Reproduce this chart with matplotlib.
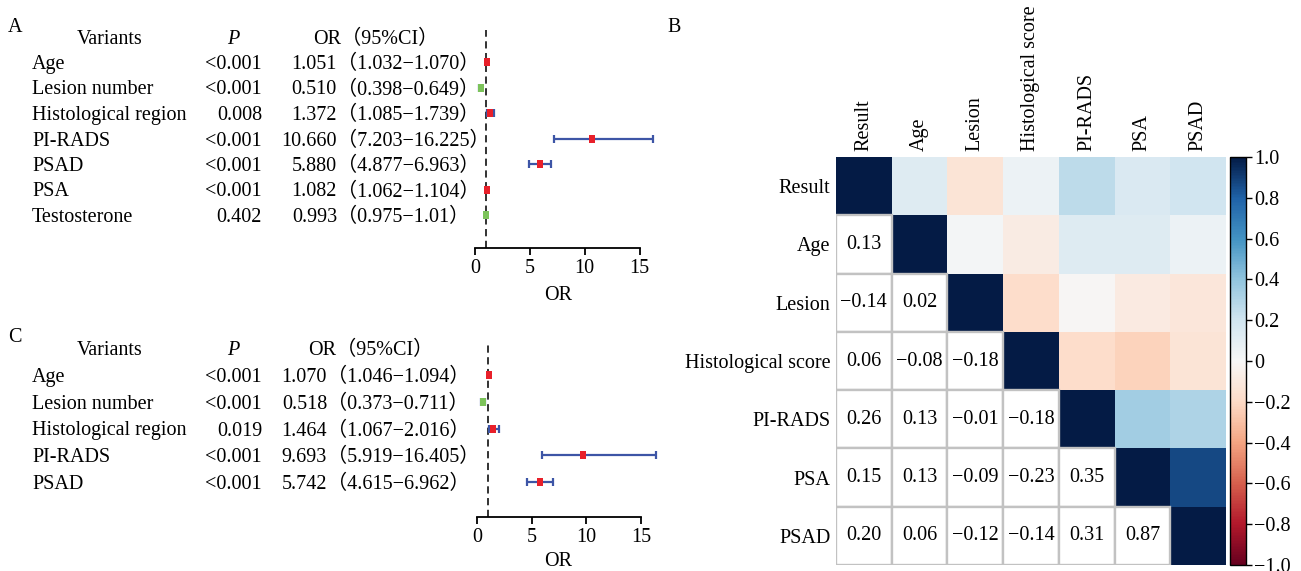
import matplotlib
matplotlib.use('Agg')
import matplotlib.pyplot as plt
import matplotlib.transforms as mtransforms
from matplotlib.patches import Rectangle
from matplotlib.ticker import FuncFormatter
from matplotlib.colors import LinearSegmentedColormap
import numpy as np

FONT = ['Liberation Serif', 'Noto Sans CJK SC', 'DejaVu Sans']
plt.rcParams['font.family'] = FONT
plt.rcParams['axes.unicode_minus'] = True

# ---------------- data: panel A ----------------
a_vars = ['Age', 'Lesion number', 'Histological region', 'PI-RADS', 'PSAD', 'PSA', 'Testosterone']
a_p = ['<0.001', '<0.001', '0.008', '<0.001', '<0.001', '<0.001', '0.402']
a_or = ['1.051', '0.510', '1.372', '10.660', '5.880', '1.082', '0.993']
a_lo = ['1.032', '0.398', '1.085', '7.203', '4.877', '1.062', '0.975']
a_hi = ['1.070', '0.649', '1.739', '16.225', '6.963', '1.104', '1.01']

# ---------------- data: panel C ----------------
c_vars = ['Age', 'Lesion number', 'Histological region', 'PI-RADS', 'PSAD']
c_p = ['<0.001', '<0.001', '0.019', '<0.001', '<0.001']
c_or = ['1.070', '0.518', '1.464', '9.693', '5.742']
c_lo = ['1.046', '0.373', '1.067', '5.919', '4.615']
c_hi = ['1.094', '0.711', '2.016', '16.405', '6.962']

# ---------------- data: panel B (correlation, lower triangle) ----------------
hm_labels = ['Result', 'Age', 'Lesion', 'Histological score', 'PI-RADS', 'PSA', 'PSAD']
hm_lower = [
    [],
    [0.13],
    [-0.14, 0.02],
    [0.06, -0.08, -0.18],
    [0.26, 0.13, -0.01, -0.18],
    [0.15, 0.13, -0.09, -0.23, 0.35],
    [0.20, 0.06, -0.12, -0.14, 0.31, 0.87],
]
cbar_ticks = [-1.0, -0.8, -0.6, -0.4, -0.2, 0.0, 0.2, 0.4, 0.6, 0.8, 1.0]

# ---------------- layout helpers ----------------
W, H = 1301, 571
FS = 14.5
fig = plt.figure(figsize=(W / 100, H / 100), dpi=100)

def fx(px):
    return px / W

def fy(py):
    return 1 - py / H

RED = '#e8202a'
GREEN = '#7cc35a'
BLUE = '#3d55a6'

CMAP = LinearSegmentedColormap.from_list('rdbu_dark', [
    '#67001f', '#b2182b', '#d6604d', '#f4a582', '#fddbc7', '#f7f7f7',
    '#d1e5f0', '#92c5de', '#4393c3', '#1f62a8', '#041b45'])


def forest(top, bottom, row0, step, x0px, upx, vars_, ps, ors, los, his,
           or_split_px, or_header_px, xlabel_y):
    left_px, right_px = 462, 668
    ax = fig.add_axes([fx(left_px), fy(bottom), fx(right_px) - fx(left_px), (bottom - top) / H])
    ax.set_xlim((left_px - x0px) / upx, (right_px - x0px) / upx)
    ax.set_ylim((bottom - row0) / step, -(row0 - top) / step)
    ax.patch.set_alpha(0)
    for s in ['top', 'right', 'left']:
        ax.spines[s].set_visible(False)
    ax.spines['bottom'].set_bounds(0, 15)
    ax.spines['bottom'].set_linewidth(1.3)
    ax.set_yticks([])
    ax.set_xticks([0, 5, 10, 15])
    ax.tick_params(axis='x', length=5, width=1.3, labelsize=FS, pad=3)
    ax.axvline(1, color='#222222', ls=(0, (4, 2.5)), lw=1.3, zorder=1)

    orv = np.array([float(v) for v in ors])
    lov = np.array([float(v) for v in los])
    hiv = np.array([float(v) for v in his])
    ys = np.arange(len(vars_))
    ax.errorbar(orv, ys, xerr=[orv - lov, hiv - orv], fmt='none', ecolor=BLUE,
                elinewidth=1.6, capsize=3, capthick=1.6, zorder=2)
    rect = [(-0.75, -1), (0.75, -1), (0.75, 1), (-0.75, 1), (-0.75, -1)]
    cols = [GREEN if v < 1 else RED for v in orv]
    for x, y, c in zip(orv, ys, cols):
        ax.plot([x], [y], marker=rect, ms=5.8, color=c, mec=c, mew=0, ls='none', zorder=3)

    trans = mtransforms.blended_transform_factory(fig.transFigure, ax.transData)
    kw = dict(transform=trans, fontsize=FS, va='center_baseline', clip_on=False)
    ax.text(fx(110), -1, 'Variants', ha='center', **kw)
    ax.text(fx(233), -1, 'P', ha='center', style='italic', **kw)
    ax.text(fx(or_header_px), -1, 'OR（95%CI）', ha='center', **kw)
    for i in range(len(vars_)):
        ax.text(fx(32), i, vars_[i], ha='left', **kw)
        ax.text(fx(262), i, ps[i], ha='right', **kw)
        ax.text(fx(or_split_px), i, ors[i], ha='right', **kw)
        ax.text(fx(or_split_px), i, '（' + los[i] + '−' + his[i] + '）', ha='left', **kw)
    fig.text(fx(558), fy(xlabel_y), 'OR', ha='center', va='center', fontsize=FS)
    return ax

forest(30, 248, 62, 25.5, 475, 10.97, a_vars, a_p, a_or, a_lo, a_hi, 337, 376, 296)
forest(345, 517, 375, 26.75, 477, 10.93, c_vars, c_p, c_or, c_lo, c_hi, 327, 371, 562)

fig.text(fx(15), fy(27), 'A', fontsize=FS, ha='center', va='center')
fig.text(fx(15), fy(338), 'C', fontsize=FS, ha='center', va='center')
fig.text(fx(674), fy(27), 'B', fontsize=FS, ha='center', va='center')

# ---------------- heatmap ----------------
n = len(hm_labels)
M = np.eye(n)
for i, row in enumerate(hm_lower):
    for j, v in enumerate(row):
        M[i, j] = v
        M[j, i] = v
ii, jj = np.indices((n, n))
upper = np.ma.masked_where(ii > jj, M)

hl, hr, ht, hb = 836, 1226, 157, 565
axh = fig.add_axes([fx(hl), fy(hb), fx(hr) - fx(hl), (hb - ht) / H])
mesh = axh.pcolormesh(np.arange(n + 1), np.arange(n + 1), upper, cmap=CMAP, vmin=-1, vmax=1)
for i in range(n):
    for j in range(i):
        axh.add_patch(Rectangle((j, i), 1, 1, facecolor='white', edgecolor='#c2c2c2', lw=1.7, zorder=2))
        axh.text(j + 0.5, i + 0.5, f'{M[i, j]:.2f}'.replace('-', '−'), ha='center', va='center',
                 fontsize=FS, zorder=3)
axh.set_xlim(0, n)
axh.set_ylim(n, 0)
for s in axh.spines.values():
    s.set_visible(False)
axh.set_xticks(np.arange(n) + 0.5)
axh.set_xticklabels(hm_labels, rotation=90, fontsize=FS)
axh.xaxis.tick_top()
axh.set_yticks(np.arange(n) + 0.5)
axh.set_yticklabels(hm_labels, fontsize=FS)
axh.tick_params(length=0, pad=4)

cax = fig.add_axes([fx(1230), fy(hb), fx(1246) - fx(1230), (hb - ht) / H])
cb = fig.colorbar(mesh, cax=cax)
cb.set_ticks(cbar_ticks)
cb.ax.yaxis.set_major_formatter(FuncFormatter(lambda v, p: '0' if abs(v) < 1e-9 else f'{v:.1f}'.replace('-', '−')))
cb.ax.tick_params(labelsize=FS, length=4, width=1, pad=2)
cb.outline.set_linewidth(1.0)

fig.savefig('out.png', dpi=100)
